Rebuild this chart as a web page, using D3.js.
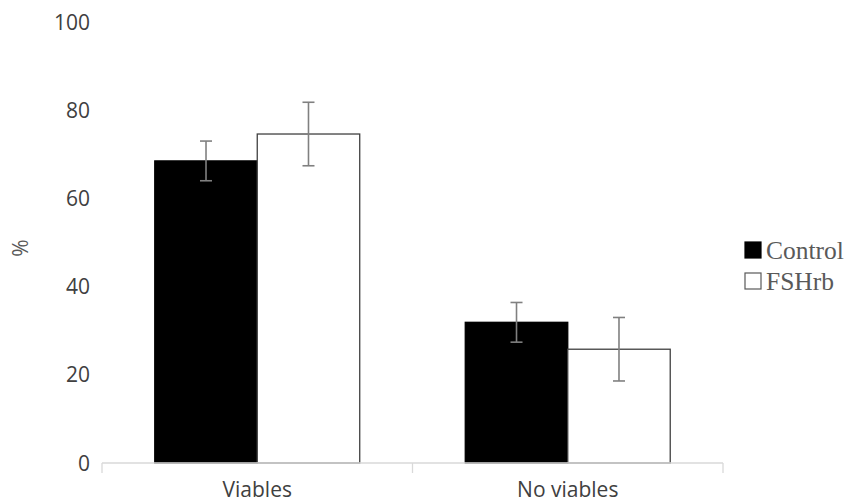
<!DOCTYPE html>
<html>
<head>
<meta charset="utf-8">
<script src="https://cdn.jsdelivr.net/npm/d3@7"></script>
<style>
  body { margin: 0; background: #fff; }
  svg { display: block; }
</style>
</head>
<body>
<svg id="chart" width="851" height="504"></svg>
<script>
// Data
const categories = ['Viables', 'No viables'];
const seriesNames = ['Control', 'FSHrb'];
const controlValues = [68.5, 31.9];
const controlErrors = [4.5, 4.5];
const fshrbValues = [74.6, 25.8];
const fshrbErrors = [7.2, 7.2];
const yTicks = [0, 20, 40, 60, 80, 100];

const svg = d3.select('#chart');

const margin = { left: 102, right: 128, top: 22, bottom: 41 };
const width = 851, height = 504;

const x0 = d3.scaleBand()
    .domain(categories)
    .range([margin.left, width - margin.right])
    .padding(0);

const x1 = d3.scaleBand()
    .domain(seriesNames)
    .range([0, x0.bandwidth()])
    .paddingInner(0)
    .paddingOuter(0.515);

const y = d3.scaleLinear()
    .domain([0, 100])
    .range([height - margin.bottom, margin.top]);

const rows = categories.map((c, i) => ({
    category: c,
    bars: [
        { name: 'Control', value: controlValues[i], err: controlErrors[i] },
        { name: 'FSHrb', value: fshrbValues[i], err: fshrbErrors[i] }
    ]
}));

const fills = { Control: '#000000', FSHrb: '#ffffff' };
const strokes = { Control: '#000000', FSHrb: '#404040' };
const labelFont = 'Open Sans, sans-serif';

// Y tick labels (no axis line)
svg.append('g')
    .selectAll('text')
    .data(yTicks)
    .enter()
    .append('text')
    .attr('x', 90)
    .attr('y', d => y(d))
    .attr('dy', '0.36em')
    .attr('text-anchor', 'end')
    .attr('font-family', labelFont)
    .attr('font-size', 21)
    .attr('fill', '#404040')
    .text(d => d);

// Y title
svg.append('text')
    .attr('transform', `translate(28,248) rotate(-90)`)
    .attr('text-anchor', 'middle')
    .attr('font-family', labelFont)
    .attr('font-size', 21)
    .attr('fill', '#595959')
    .text('%');

// Bars
const groups = svg.append('g')
    .selectAll('g')
    .data(rows)
    .enter()
    .append('g')
    .attr('transform', d => `translate(${x0(d.category)},0)`);

groups.selectAll('rect')
    .data(d => d.bars)
    .enter()
    .append('rect')
    .attr('x', d => x1(d.name))
    .attr('y', d => y(d.value))
    .attr('width', x1.bandwidth())
    .attr('height', d => y(0) - y(d.value))
    .attr('fill', d => fills[d.name])
    .attr('stroke', d => strokes[d.name])
    .attr('stroke-width', 1.3);

// Error bars
const errs = groups.selectAll('g.err')
    .data(d => d.bars)
    .enter()
    .append('g')
    .attr('class', 'err')
    .attr('stroke', '#808080')
    .attr('stroke-width', 1.6);

const cx = d => x1(d.name) + x1.bandwidth() / 2;
errs.append('line')
    .attr('x1', cx).attr('x2', cx)
    .attr('y1', d => y(d.value + d.err))
    .attr('y2', d => y(d.value - d.err));
errs.append('line')
    .attr('x1', d => cx(d) - 6).attr('x2', d => cx(d) + 6)
    .attr('y1', d => y(d.value + d.err))
    .attr('y2', d => y(d.value + d.err));
errs.append('line')
    .attr('x1', d => cx(d) - 6).attr('x2', d => cx(d) + 6)
    .attr('y1', d => y(d.value - d.err))
    .attr('y2', d => y(d.value - d.err));

// X axis
const xAxis = svg.append('g')
    .attr('transform', `translate(0,${y(0)})`);
xAxis.append('line')
    .attr('x1', margin.left).attr('x2', width - margin.right)
    .attr('stroke', '#d9d9d9').attr('stroke-width', 1.3);
const tickXs = [margin.left].concat(categories.map(c => x0(c) + x0.bandwidth()));
xAxis.selectAll('line.tick')
    .data(tickXs)
    .enter()
    .append('line')
    .attr('class', 'tick')
    .attr('x1', d => d).attr('x2', d => d)
    .attr('y1', 0).attr('y2', 10)
    .attr('stroke', '#d9d9d9').attr('stroke-width', 1.3);
xAxis.selectAll('text')
    .data(categories)
    .enter()
    .append('text')
    .attr('x', d => x0(d) + x0.bandwidth() / 2)
    .attr('y', 34)
    .attr('text-anchor', 'middle')
    .attr('font-family', labelFont)
    .attr('font-size', 21)
    .attr('fill', '#404040')
    .text(d => d);

// Legend
const legend = svg.append('g')
    .selectAll('g')
    .data(seriesNames)
    .enter()
    .append('g')
    .attr('transform', (d, i) => `translate(745,${242 + i * 31})`);
legend.append('rect')
    .attr('width', 16).attr('height', 16)
    .attr('fill', d => fills[d])
    .attr('stroke', d => d === 'Control' ? '#000' : '#595959')
    .attr('stroke-width', 1.2);
legend.append('text')
    .attr('x', 21)
    .attr('y', 17)
    .attr('font-family', 'Liberation Serif, serif')
    .attr('font-size', 25.5)
    .attr('fill', '#595959')
    .text(d => d);
</script>
</body>
</html>
